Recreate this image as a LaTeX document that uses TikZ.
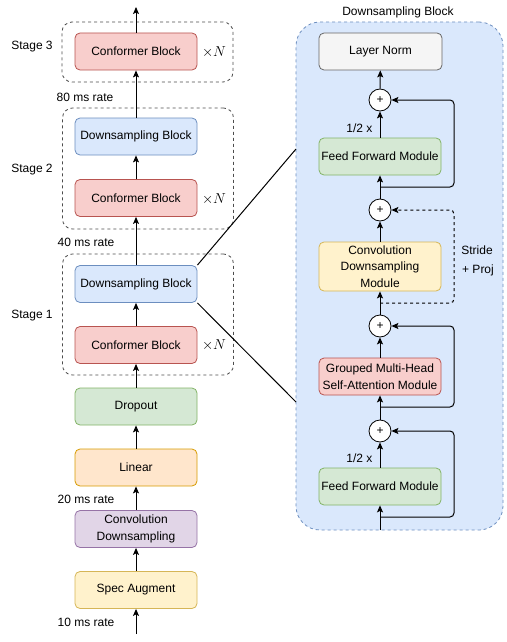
\documentclass[tikz,border=0pt]{standalone}
\usepackage{amsmath}
\usepackage{fontspec}
\setmainfont{Liberation Sans}
\usetikzlibrary{positioning, arrows.meta, calc}

\definecolor{redfill}{HTML}{F8CECC}\definecolor{redline}{HTML}{B85450}
\definecolor{bluefill}{HTML}{DAE8FC}\definecolor{blueline}{HTML}{6C8EBF}
\definecolor{greenfill}{HTML}{D5E8D4}\definecolor{greenline}{HTML}{82B366}
\definecolor{orangefill}{HTML}{FFE6CC}\definecolor{orangeline}{HTML}{D79B00}
\definecolor{purplefill}{HTML}{E1D5E7}\definecolor{purpleline}{HTML}{9673A6}
\definecolor{yellowfill}{HTML}{FFF2CC}\definecolor{yellowline}{HTML}{D6B656}
\definecolor{grayfill}{HTML}{F5F5F5}\definecolor{grayline}{HTML}{666666}

\begin{document}
\begin{tikzpicture}[x=1pt, y=-1pt,
    font=\fontsize{12}{16.5}\selectfont,
    block/.style={draw, rounded corners=5pt, minimum width=122pt, minimum height=37pt,
                  align=center, inner sep=1pt, line width=0.8pt},
    conf/.style={block, fill=redfill, draw=redline},
    down/.style={block, fill=bluefill, draw=blueline},
    ffm/.style={block, fill=greenfill, draw=greenline},
    stagebox/.style={draw=black!70, dash pattern=on 3pt off 3pt, rounded corners=10pt,
                     line width=0.8pt, minimum width=171pt},
    plus/.style={circle, draw, fill=white, minimum size=22pt, inner sep=0pt, line width=0.8pt},
    arr/.style={-{Stealth[length=7pt,width=6pt,inset=1.5pt]}, line width=1pt},
    loop/.style={arr, rounded corners=4pt},
    times/.style={font=\fontsize{14}{16}\selectfont}]

    \useasboundingbox (0,0) rectangle (506,642);

    % ---------- left: encoder ----------
    \node[stagebox, minimum height=60pt]  (stg3) at (147.5, 52)  {};
    \node[stagebox, minimum height=121pt] (stg2) at (148, 168.5) {};
    \node[stagebox, minimum height=121pt] (stg1) at (148, 314.5) {};

    \node[conf] (conf3) at (136, 51.5) {Conformer Block};
    \node[down] (down2) at (136, 136.5) {Downsampling Block};
    \node[conf] (conf2) at (136, 198) {Conformer Block};
    \node[down] (down1) at (136, 284) {Downsampling Block};
    \node[conf] (conf1) at (136, 345) {Conformer Block};
    \node[block, fill=greenfill, draw=greenline] (drop) at (136, 406.5) {Dropout};
    \node[block, fill=orangefill, draw=orangeline] (lin) at (136, 467.5) {Linear};
    \node[block, fill=purplefill, draw=purpleline] (convds) at (136, 529) {Convolution\\Downsampling};
    \node[block, fill=yellowfill, draw=yellowline] (spec) at (136, 590) {Spec Augment};

    \node[times] (n3) at (214, 52)  {$\times N$};
    \node[times] (n2) at (214, 199) {$\times N$};
    \node[times] (n1) at (214, 345) {$\times N$};

    \node (lab3) at (32, 47)  {Stage 3};
    \node (lab2) at (32, 170) {Stage 2};
    \node (lab1) at (32, 316) {Stage 1};
    \node (r80) at (85, 97)  {80 ms rate};
    \node (r40) at (86, 242) {40 ms rate};
    \node (r20) at (86, 499) {20 ms rate};
    \node (r10) at (86, 622) {10 ms rate};

    \coordinate (in)  at (136, 634);
    \coordinate (out) at (136, 7);

    \draw[arr] (in) -- (spec);
    \draw[arr] (spec) -- (convds);
    \draw[arr] (convds) -- (lin);
    \draw[arr] (lin) -- (drop);
    \draw[arr] (drop) -- (conf1);
    \draw[arr] (conf1) -- (down1);
    \draw[arr] (down1) -- (conf2);
    \draw[arr] (conf2) -- (down2);
    \draw[arr] (down2) -- (conf3);
    \draw[arr] (conf3) -- (out);

    % ---------- right: downsampling block ----------
    \node[draw=blueline, fill=bluefill, dash pattern=on 3pt off 3pt, rounded corners=24pt,
          line width=0.8pt, minimum width=207pt, minimum height=508pt] (panel) at (399.5, 276) {};
    \node (title) at (398, 12) {Downsampling Block};

    \node[block, fill=grayfill, draw=grayline, minimum width=123pt] (ln) at (380.5, 51.5) {Layer Norm};
    \node[plus] (p1) at (380, 100) {+};
    \node[ffm] (ffm2) at (380, 156.5) {Feed Forward Module};
    \node[plus] (p2) at (380, 210) {+};
    \node[block, fill=yellowfill, draw=yellowline, minimum height=49pt] (cdm) at (380, 266.5)
        {Convolution\\Downsampling\\Module};
    \node[plus] (p3) at (380, 326) {+};
    \node[block, fill=redfill, draw=redline] (mhsa) at (380, 376.5)
        {Grouped Multi-Head\\Self-Attention Module};
    \node[plus] (p4) at (380, 431) {+};
    \node[ffm] (ffm1) at (380, 486.5) {Feed Forward Module};

    \node[anchor=east] (half2) at (376, 128) {1/2 x};
    \node[anchor=east] (half1) at (376, 458) {1/2 x};
    \node (stride) at (477, 250) {Stride};
    \node (proj)   at (478, 270) {+ Proj};

    \coordinate (pin) at (380, 530);
    \coordinate (b1) at (380, 187);
    \coordinate (b2) at (380, 303);
    \coordinate (b3) at (380, 407);
    \coordinate (b4) at (380, 517);

    \draw[arr] (pin) -- (ffm1);
    \draw[arr] (ffm1) -- (p4);
    \draw[arr] (p4) -- (mhsa);
    \draw[arr] (mhsa) -- (p3);
    \draw[arr] (p3) -- (cdm);
    \draw[arr] (cdm) -- (p2);
    \draw[arr] (p2) -- (ffm2);
    \draw[arr] (ffm2) -- (p1);
    \draw[arr] (p1) -- (ln);

    \draw[loop] (b4) -- (454, 517) -- (454, 431) -- (p4.east);
    \draw[loop] (b3) -- (454, 407) -- (454, 326) -- (p3.east);
    \draw[loop, dash pattern=on 3pt off 3pt] (b2) -- (454, 303) -- (454, 210) -- (p2.east);
    \draw[loop] (b1) -- (454, 187) -- (454, 100) -- (p1.east);

    % zoom lines
    \coordinate (zt) at (296, 149);
    \coordinate (zb) at (296, 402);
    \draw[line width=1pt] (down1.north east) -- (zt);
    \draw[line width=1pt] (down1.south east) -- (zb);
\end{tikzpicture}
\end{document}
